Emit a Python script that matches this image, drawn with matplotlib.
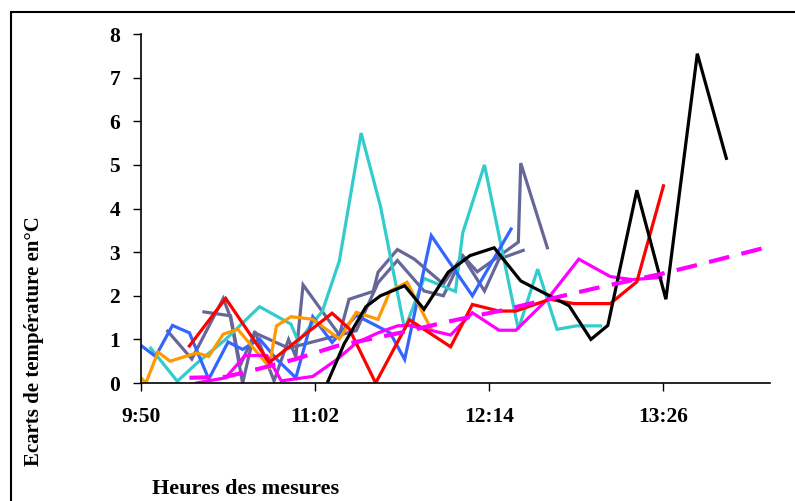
import matplotlib
matplotlib.use("Agg")
import matplotlib.pyplot as plt
from matplotlib.patches import Rectangle

plt.rcParams['font.family'] = ['Liberation Serif', 'DejaVu Serif']
plt.rcParams['font.weight'] = 'bold'

# heures des mesures (hh:mm) et ecarts de temperature (°C) par serie
t_noir = ["11:07", "11:14", "11:23", "11:29", "11:39", "11:47", "11:57", "12:06", "12:16",
          "12:27", "12:35", "12:47", "12:56", "13:03", "13:15", "13:27", "13:40", "13:52"]
v_noir = [0, 0.9, 1.75, 2.0, 2.23, 1.69, 2.54, 2.92, 3.1,
          2.34, 2.11, 1.77, 1.0, 1.32, 4.42, 1.92, 7.55, 5.15]

t_rouge = ["10:10", "10:25", "10:43", "11:09", "11:16", "11:27", "11:41", "11:58",
           "12:07", "12:18", "12:25", "12:39", "12:49", "13:04", "13:15", "13:26"]
v_rouge = [0.85, 1.94, 0.47, 1.6, 1.25, 0, 1.45, 0.83,
           1.8, 1.65, 1.65, 1.92, 1.82, 1.82, 2.32, 4.52]

t_turquoise = ["9:54", "10:05", "10:14", "10:25", "10:39", "10:52", "10:55", "11:05", "11:12",
               "11:21", "11:29", "11:39", "11:47", "12:00", "12:03", "12:12", "12:26", "12:34",
               "12:42", "12:50", "13:00"]
v_turquoise = [0.8, 0.04, 0.5, 1.0, 1.75, 1.35, 0.95, 1.65, 2.8,
               5.73, 4.05, 1.23, 2.4, 2.1, 3.44, 5.0, 1.23, 2.61,
               1.23, 1.31, 1.31]

t_bleu = ["9:50", "9:56", "10:03", "10:10", "10:18", "10:26", "10:32", "10:39", "10:46",
          "10:54", "11:01", "11:09", "11:19", "11:33", "11:39", "11:50", "12:07", "12:23"]
v_bleu = [0.86, 0.61, 1.32, 1.15, 0.09, 0.94, 0.77, 1.01, 0.55,
          0.12, 1.52, 0.93, 1.55, 1.15, 0.54, 3.38, 2.0, 3.53]

t_gris1 = ["10:01", "10:11", "10:24", "10:27", "10:32", "10:37", "10:45", "10:51", "10:54",
           "10:57", "11:12", "11:16", "11:26", "11:28", "11:36", "11:43", "11:55", "12:03",
           "12:09", "12:26", "12:27", "12:38"]
v_gris1 = [1.19, 0.55, 1.94, 1.5, 0, 1.19, 0.05, 1.0, 0.6,
           2.25, 1.1, 1.92, 2.1, 2.54, 3.06, 2.84, 2.27, 2.92,
           2.55, 3.23, 5.04, 3.1]

t_gris2 = ["10:16", "10:27", "10:31", "10:37", "10:51", "11:19", "11:28", "11:36", "11:47",
           "11:55", "12:03", "12:12", "12:18", "12:28"]
v_gris2 = [1.63, 1.54, 0.4, 1.15, 0.8, 1.2, 2.3, 2.81, 2.11,
           2.0, 2.9, 2.11, 2.84, 3.04]

t_orange = ["9:50", "9:52", "9:57", "10:02", "10:13", "10:18", "10:24", "10:30", "10:43",
            "10:46", "10:52", "11:01", "11:12", "11:19", "11:28", "11:33", "11:40", "11:50"]
v_orange = [0.12, 0, 0.71, 0.5, 0.69, 0.61, 1.12, 1.23, 0.37,
            1.31, 1.52, 1.46, 1.01, 1.62, 1.46, 2.11, 2.31, 1.23]

t_rose = ["10:13", "10:25", "10:33", "10:42", "10:48", "11:01", "11:11", "11:19", "11:28",
          "11:36", "11:41", "11:58", "12:07", "12:18", "12:25", "12:38", "12:51", "13:04",
          "13:13", "13:25"]
v_rose = [0, 0.12, 0.63, 0.63, 0.05, 0.15, 0.54, 0.92, 1.15,
          1.31, 1.32, 1.1, 1.61, 1.21, 1.21, 1.92, 2.84, 2.44,
          2.37, 2.42]

t_tendance = ["10:10", "10:25", "10:39", "10:54", "11:11", "11:37", "11:58", "12:18",
              "12:43", "13:00", "13:25", "13:41", "14:10"]
v_tendance = [0.12, 0.14, 0.33, 0.55, 0.85, 1.15, 1.42, 1.65,
              1.98, 2.2, 2.5, 2.72, 3.13]

ticks_h = ["9:50", "11:02", "12:14", "13:26"]


def minutes(liste):
    res = []
    for h in liste:
        hh, mm = h.split(":")
        res.append(int(hh) * 60 + int(mm))
    return res


fig = plt.figure(figsize=(7.95, 5.01), dpi=100)
ax = fig.add_axes([0.1774, 0.2355, 0.791, 0.6966])

series = [
    (t_gris2, v_gris2, '#666699'),
    (t_gris1, v_gris1, '#666699'),
    (t_turquoise, v_turquoise, '#33CCCC'),
    (t_bleu, v_bleu, '#3366FF'),
    (t_orange, v_orange, '#FF9900'),
    (t_rose, v_rose, '#FF00FF'),
    (t_rouge, v_rouge, '#FF0000'),
    (t_noir, v_noir, '#000000'),
]
for t, v, c in series:
    ax.plot(minutes(t), v, color=c, lw=2.3, solid_joinstyle='miter')

# courbe de tendance en pointilles
ax.plot(minutes(t_tendance), v_tendance, color='#FF00FF', lw=3, dashes=(5, 3))

ax.set_xlim(590, 850)
ax.set_ylim(0, 8)
ax.set_xticks(minutes(ticks_h))
ax.set_xticklabels(ticks_h, fontsize=15.5, fontweight='bold')
ax.set_yticks(range(9))
ax.set_yticklabels([str(i) for i in range(9)], fontsize=15.5, fontweight='bold')
ax.tick_params(axis='x', direction='out', length=6, width=1, pad=11)
ax.tick_params(axis='y', direction='out', length=6, width=1, pad=9)
ax.spines['top'].set_visible(False)
ax.spines['right'].set_visible(False)
ax.spines['left'].set_linewidth(1.2)
ax.spines['bottom'].set_linewidth(1.2)

ax.set_ylabel("Ecarts de température en°C", fontsize=15, fontweight='bold')
ax.yaxis.set_label_coords(-0.154, 0.12)
ax.set_xlabel("Heures des mesures", fontsize=16, fontweight='bold')
ax.xaxis.set_label_coords(0.167, -0.275)

# cadre autour du graphique
fig.patches.append(Rectangle((11 / 795, -0.1), 1.2, 1.1 - 12 / 501, transform=fig.transFigure,
                             fill=False, lw=1.5, edgecolor='black'))

fig.savefig("out.png", dpi=100)
